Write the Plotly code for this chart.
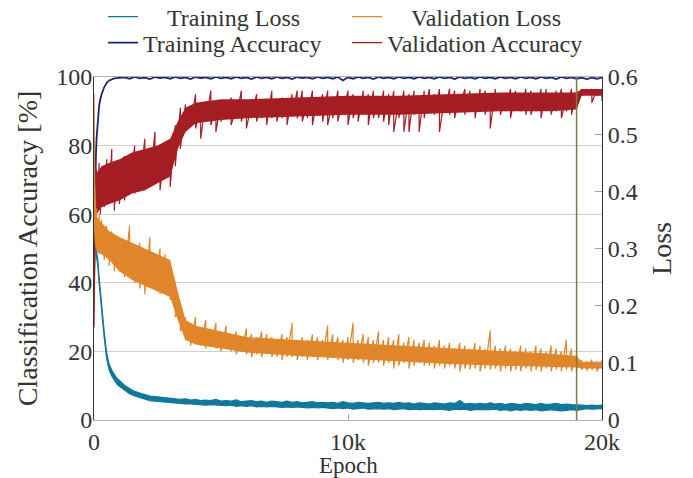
import plotly.graph_objects as go

# ---- data ----
EPOCHS_EARLY = [0, 25, 50, 75, 100, 150, 200, 250, 300, 400, 500, 600, 700, 800, 900, 1000]
EPOCHS = EPOCHS_EARLY + list(range(1200, 20001, 200))

TRAIN_LOSS_HI = [0.45, 0.385, 0.345, 0.315, 0.295, 0.28, 0.25, 0.225, 0.205, 0.155, 0.117, 0.097, 0.087, 0.079, 0.073, 0.069,
                 0.061, 0.055, 0.050, 0.047, 0.044, 0.042, 0.041, 0.040, 0.039, 0.038,
                 0.037, 0.036, 0.037, 0.035, 0.036, 0.034, 0.035, 0.034, 0.036, 0.033,
                 0.034, 0.033, 0.035, 0.032, 0.033, 0.034, 0.032, 0.033, 0.031, 0.033,
                 0.032, 0.031, 0.033, 0.031, 0.032, 0.030, 0.031, 0.032, 0.030, 0.031,
                 0.030, 0.031, 0.029, 0.032, 0.030, 0.029, 0.031, 0.030, 0.029, 0.030,
                 0.031, 0.029, 0.030, 0.029, 0.031, 0.029, 0.030, 0.028, 0.030, 0.029,
                 0.028, 0.030, 0.029, 0.028, 0.030, 0.029, 0.034, 0.028, 0.029, 0.028,
                 0.029, 0.028, 0.030, 0.028, 0.029, 0.027, 0.029, 0.028, 0.027, 0.029,
                 0.028, 0.027, 0.029, 0.027, 0.028, 0.029, 0.027, 0.028, 0.027, 0.027,
                 0.026, 0.025, 0.026, 0.025, 0.026]
TRAIN_LOSS_LO = [0.45, 0.375, 0.335, 0.305, 0.285, 0.27, 0.24, 0.215, 0.195, 0.145, 0.107, 0.087, 0.077, 0.069, 0.063, 0.059,
                 0.052, 0.046, 0.042, 0.039, 0.036, 0.034, 0.033, 0.032, 0.031, 0.030,
                 0.029, 0.029, 0.028, 0.028, 0.027, 0.027, 0.026, 0.027, 0.026, 0.025,
                 0.025, 0.026, 0.024, 0.025, 0.024, 0.025, 0.023, 0.024, 0.023, 0.024,
                 0.023, 0.022, 0.023, 0.022, 0.023, 0.022, 0.021, 0.022, 0.021, 0.022,
                 0.021, 0.020, 0.021, 0.020, 0.021, 0.019, 0.020, 0.021, 0.019, 0.020,
                 0.020, 0.019, 0.020, 0.018, 0.019, 0.020, 0.018, 0.019, 0.018, 0.019,
                 0.019, 0.018, 0.019, 0.018, 0.017, 0.019, 0.018, 0.019, 0.017, 0.018,
                 0.018, 0.017, 0.018, 0.019, 0.017, 0.018, 0.016, 0.018, 0.017, 0.018,
                 0.017, 0.018, 0.016, 0.017, 0.018, 0.017, 0.016, 0.017, 0.018, 0.017,
                 0.019, 0.020, 0.019, 0.019, 0.020]

VAL_LOSS_HI = [0.57, 0.46, 0.38, 0.36, 0.37, 0.35, 0.36, 0.34, 0.35, 0.33, 0.34, 0.32, 0.33, 0.31, 0.32, 0.31,
               0.31, 0.34, 0.30, 0.31, 0.29, 0.32, 0.28, 0.30, 0.29, 0.27,
               0.24, 0.19, 0.18, 0.17, 0.18, 0.16, 0.175, 0.16, 0.17, 0.155,
               0.165, 0.15, 0.155, 0.145, 0.16, 0.15, 0.145, 0.155, 0.15, 0.145,
               0.14, 0.15, 0.145, 0.17, 0.14, 0.145, 0.14, 0.15, 0.145, 0.14,
               0.165, 0.15, 0.145, 0.14, 0.145, 0.17, 0.14, 0.15, 0.145, 0.14,
               0.155, 0.14, 0.145, 0.14, 0.15, 0.135, 0.145, 0.14, 0.135, 0.14,
               0.135, 0.13, 0.14, 0.13, 0.135, 0.125, 0.135, 0.13, 0.125, 0.135,
               0.13, 0.125, 0.157, 0.13, 0.125, 0.13, 0.125, 0.12, 0.13, 0.125,
               0.12, 0.13, 0.125, 0.12, 0.13, 0.125, 0.12, 0.14, 0.125, 0.115,
               0.105, 0.102, 0.106, 0.103, 0.105]
VAL_LOSS_LO = [0.57, 0.38, 0.31, 0.30, 0.31, 0.30, 0.29, 0.30, 0.29, 0.28, 0.29, 0.27, 0.28, 0.26, 0.27, 0.26,
               0.25, 0.26, 0.24, 0.23, 0.22, 0.24, 0.23, 0.22, 0.23, 0.21,
               0.18, 0.155, 0.14, 0.13, 0.135, 0.13, 0.125, 0.13, 0.125, 0.12,
               0.125, 0.12, 0.115, 0.12, 0.115, 0.11, 0.115, 0.11, 0.115, 0.11,
               0.11, 0.105, 0.11, 0.11, 0.105, 0.11, 0.105, 0.11, 0.105, 0.11,
               0.105, 0.11, 0.105, 0.10, 0.105, 0.10, 0.105, 0.10, 0.095, 0.10,
               0.10, 0.095, 0.10, 0.09, 0.095, 0.10, 0.09, 0.095, 0.10, 0.095,
               0.095, 0.09, 0.095, 0.09, 0.095, 0.09, 0.085, 0.09, 0.088, 0.09,
               0.085, 0.09, 0.088, 0.09, 0.085, 0.09, 0.085, 0.088, 0.085, 0.09,
               0.085, 0.088, 0.085, 0.09, 0.085, 0.088, 0.085, 0.088, 0.085, 0.09,
               0.088, 0.086, 0.088, 0.085, 0.09]

TRAIN_ACC = [45, 60, 70, 77, 82, 88, 91.5, 93.5, 95, 97, 98.3, 99, 99.4, 99.6, 99.7, 99.8,
             99.9, 99.5, 100, 99.6, 99.8, 99.4, 100, 99.7, 99.9, 99.5,
             100, 99.6, 99.9, 99.4, 100, 99.7, 99.9, 99.5, 100, 99.6,
             99.9, 99.5, 100, 99.6, 99.9, 99.4, 100, 99.6, 99.9, 99.5,
             100, 99.6, 99.9, 99.4, 100, 99.7, 99.9, 99.5, 100, 99.6,
             99.9, 99.5, 100, 99.0, 99.9, 99.5, 100, 99.6, 99.9, 99.4,
             100, 99.6, 99.9, 99.5, 100, 99.6, 99.9, 99.5, 100, 99.6,
             99.9, 99.5, 100, 99.6, 99.9, 99.4, 100, 99.6, 99.9, 99.5,
             100, 99.6, 99.9, 99.5, 100, 99.6, 99.9, 99.5, 100, 99.6,
             99.9, 99.5, 100, 99.6, 99.9, 99.4, 100, 99.6, 99.9, 99.5,
             99.8, 99.4, 99.8, 99.5, 99.8]

VAL_ACC_HI = [27, 58, 62, 70, 73, 68, 75, 72, 74, 70, 76, 73, 79, 72, 75, 74,
              77, 75, 80, 77, 82, 78, 84, 80, 81, 79,
              86, 91, 92, 90, 95, 92, 93, 96, 91, 93,
              92, 94, 91, 96, 93, 92, 95, 93, 91, 96,
              93, 94, 92, 95, 96, 96, 93, 96, 94, 95,
              96, 93, 96, 94, 96, 95, 93, 96, 95, 96,
              94, 96, 95, 96, 93, 96, 95, 96, 94, 96,
              96.5, 95, 96.5, 94, 96.5, 96, 95, 96.5, 96, 94,
              96.5, 96, 95, 96.5, 95, 94, 96.5, 96, 95, 96.5,
              96, 94, 96.5, 96.5, 95, 96, 96.5, 94, 96.5, 96,
              96.5, 96.5, 96.5, 96.5, 96.5]
VAL_ACC_LO = [27, 45, 50, 56, 60, 62, 64, 60, 63, 62, 66, 64, 65, 61, 65, 63,
              64, 66, 66, 68, 67, 69, 70, 67, 72, 68,
              74, 79, 84, 86, 85, 82, 87, 86, 84, 87,
              88, 86, 88, 87, 85, 88, 87, 88, 86, 88,
              87, 88, 86, 89, 88, 87, 88, 86, 89, 87,
              86, 88, 87, 89, 86, 88, 87, 89, 86, 88,
              88, 87, 86, 84, 88, 84, 84, 89, 84, 88,
              90, 89, 84, 90, 89, 88, 91, 89, 90, 88,
              90, 89, 85, 91, 89, 90, 88, 91, 90, 89,
              89, 90, 88, 91, 89, 90, 88, 90, 89, 91,
              94.5, 95.5, 92.5, 94.5, 93]

# dense core of the noisy validation curves
CORE_EPOCHS = [0, 100, 300, 600, 1000, 1500, 2000, 2500, 3000, 3300, 3600, 4000, 5000, 6000, 8000,
               10000, 12000, 14000, 16000, 18000, 19000, 19200, 20000]
VAL_ACC_CORE_LO = [30, 60, 62, 63, 64, 66, 67, 69, 71, 79, 84, 86.5, 87.5, 88, 88.5,
                   89, 89, 89.5, 90, 90, 90.5, 94.5, 94.5]
VAL_ACC_CORE_HI = [45, 72, 74, 75, 76, 78, 79, 80, 82, 87, 91, 92.5, 93.5, 93.5, 94,
                   94.5, 94.5, 95, 95.5, 95.5, 95.5, 96.5, 96.5]
VAL_LOSS_CORE_LO = [0.33, 0.295, 0.29, 0.28, 0.26, 0.245, 0.235, 0.225, 0.215, 0.175, 0.14, 0.132, 0.125, 0.118, 0.112,
                    0.107, 0.102, 0.098, 0.095, 0.093, 0.092, 0.09, 0.09]
VAL_LOSS_CORE_HI = [0.45, 0.355, 0.345, 0.33, 0.32, 0.31, 0.30, 0.29, 0.28, 0.225, 0.175, 0.165, 0.155, 0.145, 0.14,
                    0.135, 0.13, 0.125, 0.12, 0.116, 0.112, 0.102, 0.102]

MARK_EPOCH = 19000
X_TICKS = [0, 10000, 20000]
X_LABELS = ["0", "10k", "20k"]
ACC_TICKS = [0, 20, 40, 60, 80, 100]
LOSS_TICKS = [0, 0.1, 0.2, 0.3, 0.4, 0.5, 0.6]
LOSS_LABELS = ["0", "0.1", "0.2", "0.3", "0.4", "0.5", "0.6"]

C_TL = "#12779a"
C_VL = "#e0862b"
C_TA = "#1b2571"
C_VA = "#a51e24"
TXT = "#333333"
FONT = "Liberation Serif"
NB = "\u00a0"

fig = go.Figure()


def core(lo, hi, color, yaxis):
    fig.add_trace(go.Scatter(x=CORE_EPOCHS, y=lo, mode="lines", yaxis=yaxis, showlegend=False,
                             hoverinfo="skip", line=dict(color=color, width=0)))
    fig.add_trace(go.Scatter(x=CORE_EPOCHS, y=hi, mode="lines", yaxis=yaxis, showlegend=False,
                             hoverinfo="skip", line=dict(color=color, width=0),
                             fill="tonexty", fillcolor=color))


def noisy(name, hi, lo, color, yaxis, legend, width=1.2):
    xs, ys = [], []
    for e, h, l in zip(EPOCHS, hi, lo):
        xs += [e, e]
        ys += [h, l]
    fig.add_trace(go.Scatter(x=xs, y=ys, mode="lines", name=name, yaxis=yaxis, legend=legend,
                             line=dict(color=color, width=width)))


# training loss: thin band
fig.add_trace(go.Scatter(x=EPOCHS, y=TRAIN_LOSS_LO, mode="lines", name=NB * 4 + "Training Loss",
                         yaxis="y2", legend="legend", line=dict(color=C_TL, width=1.2)))
fig.add_trace(go.Scatter(x=EPOCHS, y=TRAIN_LOSS_HI, mode="lines", yaxis="y2", showlegend=False,
                         line=dict(color=C_TL, width=1.2), fill="tonexty", fillcolor=C_TL))
# validation loss: dense core + spikes
core(VAL_LOSS_CORE_LO, VAL_LOSS_CORE_HI, C_VL, "y2")
noisy(NB * 4 + "Validation Loss", VAL_LOSS_HI, VAL_LOSS_LO, C_VL, "y2", "legend2")
# accuracies
fig.add_trace(go.Scatter(x=EPOCHS, y=TRAIN_ACC, mode="lines", name="Training Accuracy",
                         line=dict(color=C_TA, width=1.8), yaxis="y", legend="legend3"))
core(VAL_ACC_CORE_LO, VAL_ACC_CORE_HI, C_VA, "y")
noisy("Validation Accuracy", VAL_ACC_HI, VAL_ACC_LO, C_VA, "y", "legend4")

fig.add_shape(type="line", x0=MARK_EPOCH, x1=MARK_EPOCH, y0=0, y1=1, xref="x", yref="paper",
              line=dict(color="#7d7d40", width=1.5), layer="above")

# x-axis title placed as paper annotation
fig.add_annotation(text="Epoch", x=0.5, y=(420 - 465) / 343, xref="paper", yref="paper",
                   showarrow=False, xanchor="center", yanchor="middle",
                   font=dict(family=FONT, size=23, color=TXT))

lg = dict(orientation="v", yanchor="middle", xanchor="left",
          font=dict(family=FONT, size=24, color=TXT), bgcolor="rgba(0,0,0,0)", itemwidth=30)
ROW1 = (420 - 17) / 343
ROW2 = (420 - 43) / 343
C1 = 0.0177
C2 = 0.498

# the page body adds an 8px offset, so the figure is drawn 8px earlier
fig.update_layout(
    width=677, height=470,
    margin=dict(l=86, r=83, t=69, b=58, autoexpand=False),
    paper_bgcolor="white", plot_bgcolor="white",
    font=dict(family=FONT, size=23, color=TXT),
    showlegend=True,
    legend=dict(x=C1, y=ROW1, **lg),
    legend2=dict(x=C2, y=ROW1, **lg),
    legend3=dict(x=C1, y=ROW2, **lg),
    legend4=dict(x=C2, y=ROW2, **lg),
    xaxis=dict(range=[0, 20000], tickvals=X_TICKS, ticktext=X_LABELS, ticks="inside", ticklen=6,
               tickcolor="#b0b0b0", showline=True, linecolor="#b0b0b0", linewidth=1, mirror=True,
               showgrid=False, zeroline=False, tickfont=dict(size=24)),
    yaxis=dict(range=[0, 100], tickvals=ACC_TICKS, ticks="", showline=True, linecolor="#333333",
               linewidth=1, showgrid=True, gridcolor="#d0d0d0", gridwidth=1, zeroline=False,
               ticklabelstandoff=-4,
               title=dict(text="Classification Accuracy [%]", standoff=10), tickfont=dict(size=24)),
    yaxis2=dict(range=[0, 0.6], tickvals=LOSS_TICKS, ticktext=LOSS_LABELS, overlaying="y", side="right",
                ticks="inside", ticklen=7, tickcolor="#a0a0a0", showline=True, linecolor="#333333",
                linewidth=1, showgrid=False, zeroline=False,
                title=dict(text="Loss", standoff=14), tickfont=dict(size=24)),
)

fig.write_html("out.html")
